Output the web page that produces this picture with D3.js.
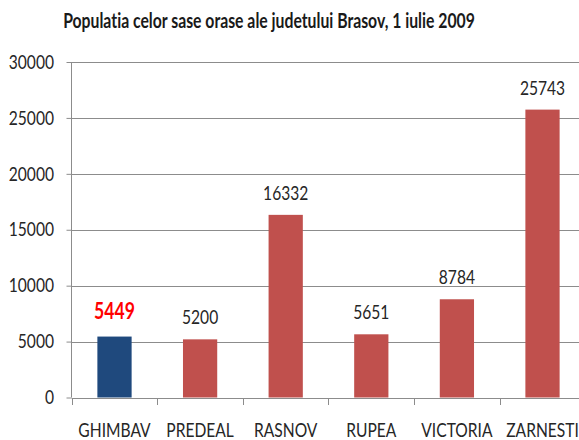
<!DOCTYPE html>
<html><head><meta charset="utf-8">
<script src="https://cdn.jsdelivr.net/npm/d3@7"></script>
<style>
html,body{margin:0;padding:0;background:#fff;}
text{font-family:Lato,"Open Sans",sans-serif;font-variant-ligatures:none;font-feature-settings:"liga" 0,"dlig" 0;}
</style></head>
<body><svg id="c" width="579" height="440"></svg>
<script>
const categories = ["GHIMBAV","PREDEAL","RASNOV","RUPEA","VICTORIA","ZARNESTI"];
const values = [5449,5200,16332,5651,8784,25743];
const highlight = ["GHIMBAV"];
const yTicks = [0,5000,10000,15000,20000,25000,30000];
const title = "Populatia celor sase orase ale judetului Brasov, 1 iulie 2009";

const svg = d3.select("#c");
const x = d3.scaleBand().domain(categories).range([71.7,585.3]).paddingInner(0.6).paddingOuter(0.3);
const y = d3.scaleLinear().domain([0,30000]).range([397.5,62]);
const grey = "#8c8c8c", txt = "#262626";
const condense = 0.8;
// horizontally condense each text around its own anchor point using a transform
function squeeze(sel, k){ sel.each(function(){
  const t = d3.select(this);
  const ax = +t.attr("x")||0, ay = +t.attr("y")||0;
  t.attr("x",0).attr("y",0).attr("transform","translate("+ax+","+ay+") scale("+k+",1)");
}); }

const tt = svg.append("text").attr("x",269).attr("y",28).attr("text-anchor","middle")
  .attr("font-size",21).attr("font-weight","bold").attr("fill","#1a1a1a").text(title);
const tw = tt.node().getComputedTextLength();
tt.call(squeeze, 412/tw);

// gridlines
svg.append("g").selectAll("line").data(yTicks.filter(d=>d>0)).join("line")
  .attr("x1",71.7).attr("x2",579).attr("y1",d=>Math.round(y(d))+0.5).attr("y2",d=>Math.round(y(d))+0.5)
  .attr("stroke",grey).attr("stroke-width",1);

// y axis
const ya = svg.append("g").attr("transform","translate(71.5,0)")
  .call(d3.axisLeft(y).tickValues(yTicks).tickSize(5).tickPadding(12).tickFormat(d3.format("d")));
ya.select(".domain").attr("stroke",grey).attr("d","M0,62V"+y(0));
ya.selectAll(".tick line").attr("stroke",grey);
ya.selectAll(".tick text").attr("font-size",19.5).attr("fill",txt).attr("font-family",null)
  .attr("x",-17.5).attr("y",0).call(squeeze, condense);

// x axis
const xa = svg.append("g").attr("transform","translate(0,"+(Math.round(y(0))+0.5)+")")
  .call(d3.axisBottom(x).tickSize(0).tickPadding(0));
xa.select(".domain").attr("stroke",grey).attr("d","M71.7,0H579");
xa.selectAll(".tick text").attr("font-size",19.5).attr("fill",txt).attr("font-family",null)
  .attr("dy",null).attr("y",38.5).call(squeeze, condense);
const step = x.step();
svg.append("g").selectAll("line").data(d3.range(categories.length+1)).join("line")
  .attr("x1",i=>Math.round(71.7+i*step)+0.5).attr("x2",i=>Math.round(71.7+i*step)+0.5)
  .attr("y1",Math.round(y(0))).attr("y2",Math.round(y(0))+7).attr("stroke",grey);

// bars
svg.append("g").selectAll("rect").data(categories).join("rect")
  .attr("x",d=>x(d)).attr("width",x.bandwidth())
  .attr("y",(d,i)=>y(values[i])).attr("height",(d,i)=>y(0)-y(values[i]))
  .attr("fill",d=>highlight.includes(d)?"#1F497D":"#C0504D");

// value labels
svg.append("g").selectAll("text").data(categories).join("text")
  .attr("x",d=>x(d)+x.bandwidth()/2)
  .attr("y",(d,i)=>y(values[i])-(highlight.includes(d)?18:15))
  .attr("text-anchor","middle")
  .attr("font-size",d=>highlight.includes(d)?22:19.5)
  .attr("font-weight",d=>highlight.includes(d)?"bold":"normal")
  .attr("fill",d=>highlight.includes(d)?"#FF0000":txt)
  .text((d,i)=>values[i]).call(squeeze, condense);
</script></body></html>
